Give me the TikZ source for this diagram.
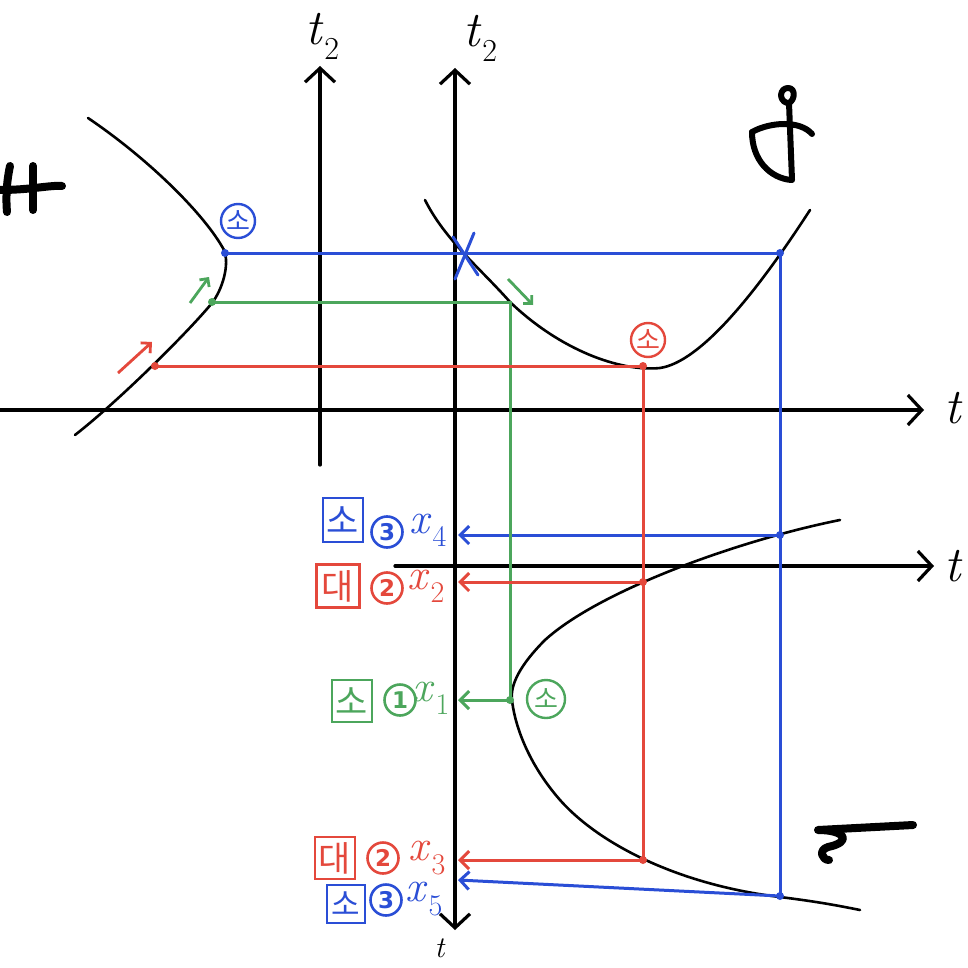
\documentclass[tikz,border=0pt]{standalone}
\usepackage{fontspec}
\newfontfamily\kr{Noto Sans CJK KR}
\newfontfamily\dv{DejaVu Sans}
\usetikzlibrary{arrows.meta}
\definecolor{hb}{RGB}{42,78,214}
\definecolor{hr}{RGB}{228,72,60}
\definecolor{hg}{RGB}{76,166,92}
\newcommand\lsub[3]{\textit{#1}\kern1pt\raisebox{-0.3em}{\fontsize{#3}{#3}\selectfont #2}}
\tikzset{
  axisline/.style={line width=3.2pt, black, line cap=round, -{Straight Barb[length=14pt,width=30pt]}},
  curveline/.style={line width=2.6pt, black, line cap=round, line join=round},
  cline/.style={line width=3pt, line cap=round},
  carrow/.style={line width=3pt, -{Straight Barb[length=9pt,width=18pt]}},
  dotc/.style={circle, fill, inner sep=0pt, minimum size=8pt},
  circso/.style={circle, draw, line width=2.4pt, minimum size=34pt, inner sep=0pt, font=\kr\fontsize{26}{26}\selectfont},
  circnum/.style={circle, draw, line width=2.6pt, minimum size=31pt, inner sep=0pt, font=\dv\bfseries\fontsize{23}{23}\selectfont},
  boxso/.style={rectangle, draw, line width=2.6pt, minimum width=40pt, minimum height=44pt, inner sep=0pt, font=\kr\fontsize{35}{35}\selectfont},
  xlab/.style={font=\fontsize{44}{44}\selectfont, inner sep=0pt},
  tlab/.style={font=\fontsize{50}{50}\selectfont, inner sep=0pt},
  hand/.style={line width=8pt, black, line cap=round, line join=round}
}
\begin{document}
\begin{tikzpicture}[x=1pt,y=-1pt]
\useasboundingbox (0,0) rectangle (968,968);
\fill[white] (0,0) rectangle (968,968);

% axes
\coordinate (lt2b) at (320,465); \coordinate (lt2t) at (320,66);
\coordinate (rt2b) at (455,930); \coordinate (rt2t) at (455,68);
\coordinate (tax0) at (0,410);   \coordinate (tax1) at (924,410);
\coordinate (sax0) at (395,566); \coordinate (sax1) at (934,566);
\coordinate (rmid) at (455,500);
\draw[axisline] (lt2b) -- (lt2t);
\draw[axisline] (rmid) -- (rt2t);
\draw[axisline] (rmid) -- (rt2b);
\draw[axisline] (tax0) -- (tax1);
\draw[axisline] (sax0) -- (sax1);
\node[tlab] (lt2lab) at (322,36) {\lsub{t}{2}{32}};
\node[tlab] (rt2lab) at (480,38) {\lsub{t}{2}{32}};
\node[tlab, anchor=west] (tlab1) at (944,408) {\textit{t}};
\node[tlab, anchor=west] (tlab2) at (944,566) {\textit{t}};
\node[font=\fontsize{30}{30}\selectfont, inner sep=0pt, anchor=south] (tlab3) at (440,958) {\textit{t}};

% curves
\draw[curveline] (88,118) .. controls (150,160) and (205,215) .. (224,250)
  .. controls (230,265) and (222,290) .. (212,303)
  .. controls (190,330) and (120,400) .. (75,435);
\draw[curveline] (425,200) .. controls (445,240) and (480,268) .. (510,302)
  .. controls (560,350) and (620,372) .. (660,368)
  .. controls (700,362) and (755,295) .. (810,210);
\draw[curveline] (840,520) .. controls (740,540) and (600,590) .. (545,640)
  .. controls (520,665) and (510,685) .. (512,700)
  .. controls (514,720) and (525,760) .. (560,800)
  .. controls (600,845) and (680,885) .. (780,897)
  .. controls (820,902) and (840,906) .. (860,910);

% handwritten marks
\draw[hand] (10,166) .. controls (6,185) and (6,200) .. (7,212);
\draw[hand] (33,166) -- (33,210);
\draw[hand] (0,190) .. controls (30,190) and (50,185) .. (62,186);
\draw[line width=6pt, line cap=round, line join=round] (787,103) .. controls (778,100) and (780,88) .. (788,88) .. controls (796,88) and (795,100) .. (789,103) -- (792,180);
\draw[line width=6pt, line cap=round, line join=round] (752,132) .. controls (770,122) and (800,120) .. (812,134);
\draw[line width=6pt, line cap=round, line join=round] (752,132) .. controls (752,160) and (770,178) .. (791,180);
\draw[line width=8pt, line cap=round, line join=round] (913,825) -- (818,830) .. controls (846,830) and (852,842) .. (828,847) .. controls (818,850) and (822,860) .. (829,860);

% blue
\coordinate (bA) at (225,253); \coordinate (bB) at (780,253);
\coordinate (bC) at (780,535); \coordinate (bD) at (780,896);
\coordinate (bE) at (458,535); \coordinate (bF) at (458,880);
\draw[hb, cline] (bA) -- (bB) -- (bD);
\draw[hb, carrow] (bC) -- (bE);
\draw[hb, carrow] (bD) -- (bF);
\foreach \p in {bA,bB,bC,bD} \node[dotc, hb] at (\p) {};
\coordinate (x1a) at (453,237); \coordinate (x1b) at (478,275);
\coordinate (x2a) at (474,233); \coordinate (x2b) at (455,279);
\draw[hb, cline] (x1a) -- (x1b);
\draw[hb, cline] (x2a) -- (x2b);
\node[circso, hb] (bso) at (238,221) {소};

% green
\coordinate (gA) at (212,302); \coordinate (gB) at (510,302);
\coordinate (gC) at (510,700); \coordinate (gD) at (458,700);
\draw[hg, cline] (gA) -- (gB) -- (gC);
\draw[hg, carrow] (gC) -- (gD);
\foreach \p in {gA,gC} \node[dotc, hg] at (\p) {};
\node[circso, hg, minimum size=38pt] (gso) at (546,699) {소};
\coordinate (ga1) at (190,303); \coordinate (ga2) at (209,277);
\draw[hg, line width=2.8pt, -{Straight Barb[length=6pt,width=12pt]}] (ga1) -- (ga2);
\coordinate (ga3) at (508,279); \coordinate (ga4) at (533,305);
\draw[hg, line width=2.8pt, -{Straight Barb[length=6pt,width=12pt]}] (ga3) -- (ga4);

% red
\coordinate (rA) at (155,366); \coordinate (rB) at (643,366);
\coordinate (rC) at (643,582); \coordinate (rD) at (643,860);
\coordinate (rE) at (458,582); \coordinate (rF) at (458,860);
\draw[hr, cline] (rA) -- (rB) -- (rD);
\draw[hr, carrow] (rC) -- (rE);
\draw[hr, carrow] (rD) -- (rF);
\foreach \p in {rA,rB,rC,rD} \node[dotc, hr] at (\p) {};
\node[circso, hr] (rso) at (648,340) {소};
\coordinate (ra1) at (118,373); \coordinate (ra2) at (152,342);
\draw[hr, line width=2.8pt, -{Straight Barb[length=7pt,width=14pt]}] (ra1) -- (ra2);

% labels
\node[boxso, hb] (box4) at (343,520) {소};
\node[circnum, hb] (n4) at (387,532) {3};
\node[xlab, hb] (x4) at (428,530) {\lsub{x}{4}{30}};

\node[boxso, hr, minimum width=43pt, minimum height=43pt] (box2) at (338,586) {대};
\node[circnum, hr] (n2) at (387,588) {2};
\node[xlab, hr] (x2) at (426,586) {\lsub{x}{2}{30}};

\node[boxso, hg, minimum height=42pt] (box1) at (352,701) {소};
\node[circnum, hg] (n1) at (400,700) {1};
\node[xlab, hg] (x1) at (431,698) {\lsub{x}{1}{30}};

\node[boxso, hr, minimum height=42pt] (box3) at (335,858) {대};
\node[circnum, hr] (n3) at (383,858) {2};
\node[xlab, hr] (x3) at (427,858) {\lsub{x}{3}{30}};

\node[boxso, hb, minimum width=38pt, minimum height=38pt, font=\kr\fontsize{31}{31}\selectfont] (box5) at (346,904) {소};
\node[circnum, hb] (n5) at (386,900) {3};
\node[xlab, hb] (x5) at (424,899) {\lsub{x}{5}{30}};
\end{tikzpicture}
\end{document}
